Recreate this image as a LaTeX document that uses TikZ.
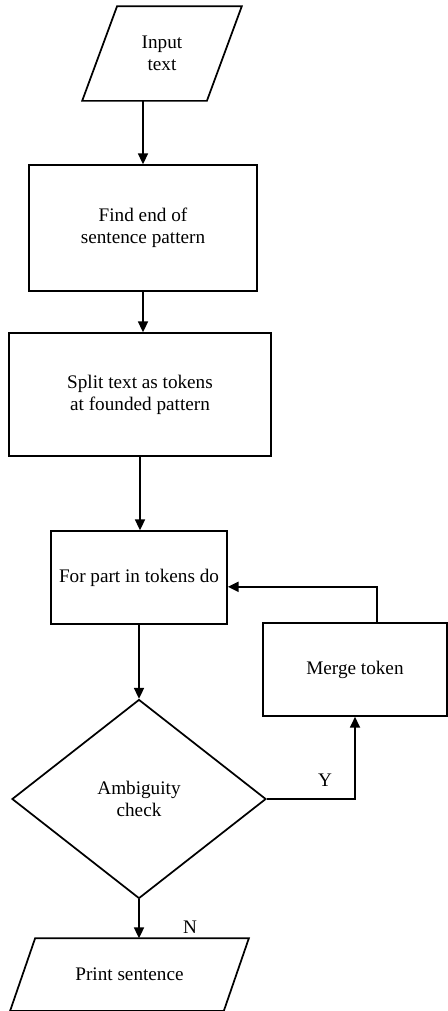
\documentclass[tikz,border=0pt]{standalone}
\usepackage{fontspec}
\setmainfont{Liberation Serif}
\usetikzlibrary{shapes.geometric,arrows.meta}

\begin{document}
\begin{tikzpicture}[x=0.75pt,y=-0.75pt,line width=1.3pt,
  every node/.style={font=\fontsize{14.4}{16.5}\selectfont,align=center},
  box/.style={draw,rectangle,inner sep=2pt},
  io/.style={rectangle,inner sep=1pt},
  arr/.style={-{Triangle[length=8pt,width=7.5pt]}}]
\useasboundingbox (0,0) rectangle (448,1011);
\node[io,minimum width=92.25pt,minimum height=69.75pt] (in) at (162,53.5) {Input\\text};
\node[box,minimum width=171pt,minimum height=94.5pt] (find) at (143,228) {Find end of\\sentence pattern};
\node[box,minimum width=196.5pt,minimum height=92.25pt] (split) at (140,394.5) {Split text as tokens\\at founded pattern};
\node[box,minimum width=132pt,minimum height=69.75pt] (for) at (139,577.5) {For part in tokens do};
\node[draw,diamond,inner sep=0pt,minimum width=190.5pt,minimum height=149.25pt] (chk) at (139,799) {Ambiguity\\check};
\node[box,minimum width=138pt,minimum height=69.75pt] (merge) at (355,669.5) {Merge token};
\node[io,minimum width=159pt,minimum height=53.25pt] (prt) at (129.5,974.5) {Print sentence};
\node (y) at (325,780) {Y};
\node (n) at (190,927) {N};
% parallelogram outlines
\draw ([xshift=13.1pt]in.north west) -- ([xshift=13.1pt]in.north east)
  -- ([xshift=-13.1pt]in.south east) -- ([xshift=-13.1pt]in.south west) -- cycle;
\draw ([xshift=9.4pt]prt.north west) -- ([xshift=9.4pt]prt.north east)
  -- ([xshift=-9.4pt]prt.south east) -- ([xshift=-9.4pt]prt.south west) -- cycle;
% connectors
\draw[arr] (find.north |- in.south) -- (find.north);
\draw[arr] (find.south) -- (find.south |- split.north);
\draw[arr] (split.south) -- (split.south |- for.north);
\draw[arr] (for.south) -- (for.south |- chk.north);
\draw[arr] (chk.east) -| (merge.south);
\draw[arr] ([xshift=16.5pt]merge.north) |- ([yshift=-7pt]for.east);
\draw[arr] (chk.south) -- (chk.south |- prt.north);
\end{tikzpicture}
\end{document}
